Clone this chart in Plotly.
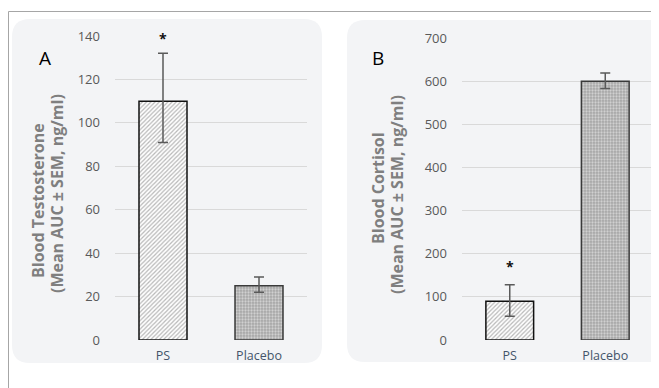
import plotly.graph_objects as go

categories = ["PS", "Placebo"]
testosterone = [110, 25]
testosterone_plus = [22, 4]
testosterone_minus = [19, 3]
cortisol = [90, 600]
cortisol_plus = [38, 19]
cortisol_minus = [35, 17]
t_ticks = [0, 20, 40, 60, 80, 100, 120, 140]
c_ticks = [0, 100, 200, 300, 400, 500, 600, 700]
star_a = ("PS", 139)
star_b = ("PS", 170)

W, H = 659, 388
OFF = 8  # page body margin
def px(x): return (x - OFF) / W
def py(y): return 1 - (y - OFF) / H

styles = [
    dict(line="#111111", shape="/", fg="#b8b8b8", bg="#ffffff", size=3, sol=0.4),
    dict(line="#3a3a3a", shape=".", fg="#d0d0d0", bg="#a6a6a6", size=3, sol=0.45),
]

fig = go.Figure()

def bars(y, plus, minus, xa, ya):
    for i, st in enumerate(styles):
        fig.add_trace(go.Bar(
            x=[categories[i]], y=[y[i]], xaxis=xa, yaxis=ya, width=0.5,
            marker=dict(
                color=st["bg"],
                line=dict(color=st["line"], width=1.5),
                pattern=dict(shape=st["shape"], fgcolor=st["fg"], bgcolor=st["bg"],
                             fillmode="replace", size=st["size"], solidity=st["sol"]),
            ),
            error_y=dict(type="data", array=[plus[i]], arrayminus=[minus[i]],
                         color="#5a5a5a", thickness=1.5, width=5),
            showlegend=False, hoverinfo="skip",
        ))

bars(testosterone, testosterone_plus, testosterone_minus, "x", "y")
bars(cortisol, cortisol_plus, cortisol_minus, "x2", "y2")

def rrect(x0, y0, x1, y1, r):
    rx, ry = r / W, r / H
    X0, X1 = px(x0), px(x1)
    Y0, Y1 = py(y0), py(y1)
    return (f"M {X0+rx},{Y0} L {X1-rx},{Y0} Q {X1},{Y0} {X1},{Y0-ry} "
            f"L {X1},{Y1+ry} Q {X1},{Y1} {X1-rx},{Y1} L {X0+rx},{Y1} "
            f"Q {X0},{Y1} {X0},{Y1+ry} L {X0},{Y0-ry} Q {X0},{Y0} {X0+rx},{Y0} Z")

shapes = [
    dict(type="path", xref="paper", yref="paper", path=rrect(12, 19, 322, 363, 18),
         fillcolor="#f3f4f6", line=dict(width=0), layer="below"),
    dict(type="path", xref="paper", yref="paper", path=rrect(347, 20, 690, 362, 18),
         fillcolor="#f3f4f6", line=dict(width=0), layer="below"),
    dict(type="line", xref="paper", yref="paper", x0=px(8.5), x1=1, y0=py(11.5), y1=py(11.5),
         line=dict(color="#a6a6a6", width=1)),
    dict(type="line", xref="paper", yref="paper", x0=px(8.5), x1=px(8.5), y0=py(11.5), y1=0,
         line=dict(color="#a6a6a6", width=1)),
]

tickfont = dict(family="Open Sans", size=13, color="#595959")
catfont = dict(family="Open Sans", size=12.5, color="#44546a")
axis_common = dict(showgrid=True, gridcolor="#d9d9d9", gridwidth=1, zeroline=False,
                   showline=False, ticks="", tickfont=tickfont, fixedrange=True,
                   automargin=False, ticklabelstandoff=14)
xcommon = dict(tickfont=catfont, showgrid=False, showline=False, ticks="",
               fixedrange=True, automargin=False, ticklabelstandoff=6,
               categoryorder="array", categoryarray=categories)

fig.update_layout(
    template="none",
    width=W, height=H, margin=dict(l=0, r=0, t=0, b=0, autoexpand=False),
    paper_bgcolor="white", plot_bgcolor="rgba(0,0,0,0)",
    shapes=shapes, bargap=0.5, barmode="overlay",
    xaxis=dict(domain=[px(115), px(307)], anchor="y", **xcommon),
    yaxis=dict(domain=[py(340), py(36)], anchor="x", range=[0, 140], tickvals=t_ticks,
               **axis_common),
    xaxis2=dict(domain=[px(462), px(653)], anchor="y2", **xcommon),
    yaxis2=dict(domain=[py(340), py(38)], anchor="x2", range=[0, 700], tickvals=c_ticks,
                **axis_common),
)

title_font = dict(family="Open Sans", size=16, color="#7f7f7f")
def vtext(t, x, y):
    return dict(text="<b>" + t + "</b>", x=px(x), y=py(y), xref="paper", yref="paper",
                showarrow=False, textangle=-90, font=title_font,
                xanchor="center", yanchor="middle")

ann = [
    dict(text="A", x=px(37), y=py(43), xref="paper", yref="paper", showarrow=False,
         font=dict(family="Open Sans", size=19, color="#000000")),
    dict(text="B", x=px(378), y=py(43), xref="paper", yref="paper", showarrow=False,
         font=dict(family="Open Sans", size=19, color="#000000")),
    vtext("Blood Testosterone", 38, 201),
    vtext("(Mean AUC ± SEM, ng/ml)", 57, 194),
    vtext("Blood Cortisol", 378, 188),
    vtext("(Mean AUC ± SEM, ng/ml)", 397, 195),
    dict(text="<b>*</b>", x=star_a[0], y=star_a[1], xref="x", yref="y", showarrow=False,
         font=dict(family="Open Sans", size=14, color="#111111")),
    dict(text="<b>*</b>", x=star_b[0], y=star_b[1], xref="x2", yref="y2", showarrow=False,
         font=dict(family="Open Sans", size=14, color="#111111")),
]
fig.update_layout(annotations=ann)

fig.write_html("out.html")
